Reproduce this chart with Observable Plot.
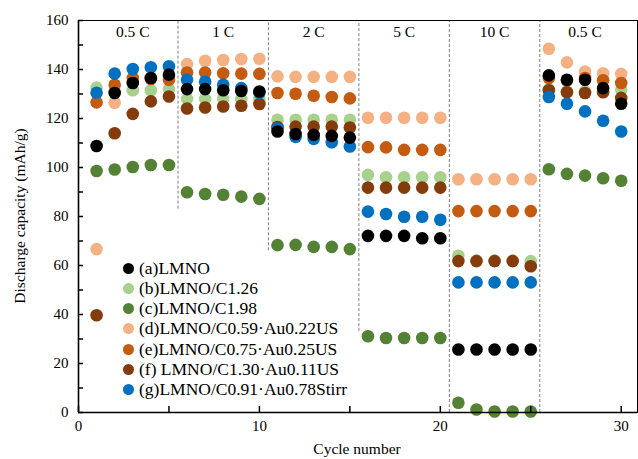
<!DOCTYPE html>
<html><head><meta charset="utf-8">
<script src="https://cdn.jsdelivr.net/npm/d3@7"></script>
<script src="https://cdn.jsdelivr.net/npm/@observablehq/plot@0.6"></script>
<style>
body{margin:0;background:#fff;}
#wrap{position:relative;width:638px;height:459px;font-family:"Liberation Serif","Times New Roman",serif;}
.lg{position:absolute;display:flex;align-items:center;height:20px;font-size:17.5px;white-space:nowrap;color:#000;}
.lg i{display:inline-block;width:11px;height:11px;border-radius:50%;margin-right:5px;}
</style></head>
<body><div id="wrap"></div>
<script>
const cycles = [1,2,3,4,5,6,7,8,9,10,11,12,13,14,15,16,17,18,19,20,21,22,23,24,25,26,27,28,29,30];
const seriesNames = ["(a)LMNO","(b)LMNO/C1.26","(c)LMNO/C1.98","(d)LMNO/C0.59·Au0.22US","(e)LMNO/C0.75·Au0.25US","(f) LMNO/C1.30·Au0.11US","(g)LMNO/C0.91·Au0.78Stirr"];
const seriesColors = ["#000000","#a9d18e","#548235","#f4b183","#c55a11","#843c0c","#0070c0"];
const sA = [108.8,130.4,134.5,136.5,137.9, 132,132,131.5,131.2,131, 114.7,113.7,113.3,112.9,112.2, 72.1,72.1,72.1,71.1,71.1, 25.7,25.7,25.7,25.7,25.7, 137.6,135.8,135.8,132.4,126];
const sB = [132.6,131,131.5,131.5,132, 128,128,128,128,128, 119.5,119.5,119.5,119.5,119.5, 97,96,96,96,96, 64,62,62,62,61.8, 132,131,131,131,131.8];
const sC = [98.6,99.2,100.2,101,101, 89.9,89.2,88.9,88.1,87.2, 68.3,68.4,67.6,67.6,66.7, 31.1,30.4,30.4,30.4,30.4, 4,1.2,0.4,0.4,0.4, 99.3,97.4,96.7,95.6,94.6];
const sD = [66.7,126.4,135,136.5,137, 142.2,143.6,143.9,144.3,144.4, 137.2,137,137,137,137, 120.3,120.3,120.3,120.3,120.3, 95.2,95.2,95.2,95.2,95.2, 148.5,142.9,139.2,138.5,138.2];
const sE = [126.6,133.8,136.5,136.1,135.8, 138.8,138.8,138.5,138.3,138.2, 130.4,130.1,129.3,128.8,128.2, 108.3,108.2,107.2,107.2,107.2, 82.2,82.2,82.2,82.2,82.2, 136.5,135.5,136.5,135.6,134.5];
const sF = [39.7,114,121.9,127,129, 124.1,124.5,124.9,125.2,125.9, 116.5,116.7,116.7,116.7,116.3, 91.8,91.8,91.8,91.8,91.8, 61.8,61.8,61.8,61.8,59.7, 131.5,130.7,130.4,130.7,128.4];
const sG = [130.5,138.3,140.2,140.9,141.3, 135.8,135,133.8,132.4,130.5, 116,112.5,111.7,110.3,108.6, 82,81,79.9,79.9,78.7, 53.1,53.1,53.1,53.1,53.1, 128.8,126,122.9,119.1,114.7];
const rateLabels = ["0.5 C","1 C","2 C","5 C","10 C","0.5 C"];
const rateCenters = [3,8,13,18,23,28];
const rateLabelY = 155.3;
const dividerX = [5.5,10.5,15.5,20.5,25.5];
const dividerBottom = [83,66,33,0,0];
const xTicks = [0,10,20,30];
const xMinorTicks = [5,15,25];
const yTicks = [0,20,40,60,80,100,120,140,160];
const yMinorTicks = [10,30,50,70,90,110,130,150];

const allSeries = [sA,sB,sC,sD,sE,sF,sG];
// draw order: b, d, e, f, g, a, c
const drawOrder = [1,3,4,5,6,0,2];
const rows = [];
for (const si of drawOrder) allSeries[si].forEach((v,i)=>rows.push({x:cycles[i],y:v,s:seriesNames[si]}));
const dividers = dividerX.map((x,i)=>({x,y1:dividerBottom[i],y2:160}));
const rates = rateLabels.map((t,i)=>({t,x:rateCenters[i],y:rateLabelY}));

const plot = Plot.plot({
  width:638, height:459,
  marginLeft:78, marginRight:1, marginTop:20, marginBottom:47,
  style:{fontFamily:"Liberation Serif, Times New Roman, serif", fontSize:"15px", color:"#000", background:"#fff"},
  x:{domain:[0,30.9]},
  y:{domain:[0,160]},
  color:{domain:seriesNames, range:seriesColors},
  marks:[
    Plot.ruleX(dividers,{x:"x",y1:"y1",y2:"y2",stroke:"#7f7f7f",strokeDasharray:"3,2",strokeWidth:1}),
    Plot.dot(rows,{x:"x",y:"y",fill:"s",r:6.3,stroke:"none"}),
    Plot.text(rates,{x:"x",y:"y",text:"t",fontSize:15.5,fill:"#000"}),
    Plot.frame({stroke:"#000",strokeWidth:1}),
    Plot.ruleY([0],{stroke:"#000",strokeWidth:1.6}),
    Plot.ruleX([0],{stroke:"#000",strokeWidth:1.6}),
    Plot.axisX(xTicks,{tickSize:-6,tickPadding:14,label:null,strokeWidth:1.5}),
    Plot.axisX(xMinorTicks,{tickSize:-6,tickFormat:()=>"",label:null,strokeWidth:1.5}),
    Plot.axisY(yTicks,{tickSize:-5,tickPadding:15,label:null,strokeWidth:1.5}),
    Plot.axisY(yMinorTicks,{tickSize:-5,tickFormat:()=>"",label:null,strokeWidth:1.5})
  ]
});
const wrap = document.getElementById("wrap");
wrap.appendChild(plot);

// axis titles
const ns = "http://www.w3.org/2000/svg";
const xl = document.createElementNS(ns,"text");
xl.setAttribute("x",357); xl.setAttribute("y",454); xl.setAttribute("text-anchor","middle");
xl.setAttribute("font-size","15.5"); xl.textContent = "Cycle number";
plot.appendChild(xl);
const yl = document.createElementNS(ns,"text");
yl.setAttribute("transform","translate(25,216) rotate(-90)"); yl.setAttribute("text-anchor","middle");
yl.setAttribute("font-size","15.5"); yl.textContent = "Discharge capacity (mAh/g)";
plot.appendChild(yl);

// legend overlay
seriesNames.forEach((n,i)=>{
  const d = document.createElement("div");
  d.className = "lg";
  d.style.left = "123px";
  d.style.top = (258 + i*20.3) + "px";
  d.innerHTML = `<i style="background:${seriesColors[i]}"></i><span></span>`;
  d.querySelector("span").textContent = n;
  wrap.appendChild(d);
});
</script></body></html>
